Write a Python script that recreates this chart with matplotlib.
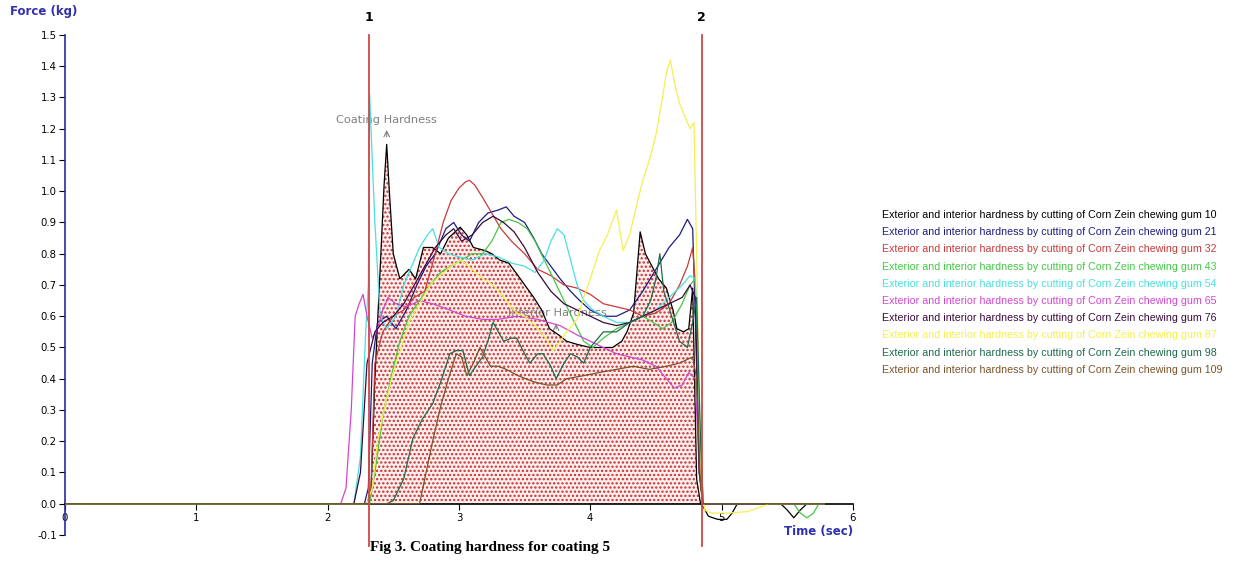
import numpy as np
import matplotlib
matplotlib.use('Agg')
import matplotlib.pyplot as plt

# force curves (time in sec, force in kg)
t_gum10 = [0, 2.30, 2.33, 2.36, 2.40, 2.43, 2.45, 2.47, 2.50, 2.55, 2.62, 2.67, 2.73, 2.80, 2.86, 2.92, 3.01, 3.06,
           3.11, 3.20, 3.25, 3.31, 3.38, 3.45, 3.57, 3.63, 3.69, 3.76, 3.82, 3.90, 4.00, 4.10, 4.17, 4.24, 4.28,
           4.33, 4.38, 4.42, 4.47, 4.52, 4.58, 4.63, 4.66, 4.71, 4.75, 4.78, 4.81, 4.84, 4.86, 4.90, 4.97, 5.04,
           5.08, 5.12, 5.45, 5.50, 5.55, 5.60, 5.65, 5.78]
f_gum10 = [0, 0.0, 0.03, 0.40, 0.75, 1.02, 1.15, 1.00, 0.80, 0.72, 0.75, 0.72, 0.82, 0.82, 0.80, 0.85, 0.885, 0.86,
           0.82, 0.81, 0.80, 0.78, 0.77, 0.73, 0.66, 0.62, 0.56, 0.54, 0.52, 0.51, 0.50, 0.50, 0.50, 0.52, 0.55,
           0.61, 0.87, 0.80, 0.76, 0.72, 0.69, 0.62, 0.56, 0.55, 0.56, 0.69, 0.08, 0.0, -0.01, -0.04, -0.05, -0.05,
           -0.03, 0.0, 0.0, -0.02, -0.045, -0.02, 0.0, 0.0]

t_gum21 = [0, 2.28, 2.31, 2.34, 2.38, 2.45, 2.52, 2.60, 2.68, 2.75, 2.82, 2.90, 2.96, 3.02, 3.08, 3.15, 3.22, 3.30,
           3.36, 3.42, 3.50, 3.57, 3.63, 3.70, 3.77, 3.85, 3.92, 4.00, 4.10, 4.20, 4.30, 4.40, 4.50, 4.60, 4.68,
           4.74, 4.78, 4.80, 4.83, 4.86, 5.78]
f_gum21 = [0, 0.0, 0.05, 0.45, 0.58, 0.60, 0.56, 0.62, 0.70, 0.76, 0.80, 0.88, 0.90, 0.86, 0.84, 0.90, 0.93, 0.94,
           0.95, 0.92, 0.90, 0.85, 0.80, 0.76, 0.72, 0.68, 0.65, 0.62, 0.60, 0.60, 0.62, 0.68, 0.75, 0.82, 0.86,
           0.91, 0.88, 0.60, 0.10, 0.0, 0.0]

t_gum32 = [0, 2.30, 2.33, 2.36, 2.42, 2.50, 2.58, 2.66, 2.74, 2.82, 2.88, 2.94, 3.00, 3.05, 3.08, 3.12, 3.18, 3.25,
           3.32, 3.40, 3.50, 3.60, 3.70, 3.80, 3.90, 4.00, 4.10, 4.20, 4.30, 4.40, 4.50, 4.60, 4.68, 4.74, 4.78,
           4.80, 4.83, 4.86, 5.78]
f_gum32 = [0, 0.0, 0.05, 0.45, 0.55, 0.60, 0.62, 0.66, 0.68, 0.80, 0.90, 0.97, 1.01, 1.03, 1.035, 1.02, 0.98, 0.93,
           0.88, 0.84, 0.80, 0.75, 0.73, 0.70, 0.69, 0.67, 0.64, 0.63, 0.62, 0.60, 0.61, 0.64, 0.70, 0.76, 0.82,
           0.70, 0.15, 0.0, 0.0]

t_gum43 = [0, 2.32, 2.36, 2.42, 2.48, 2.55, 2.62, 2.70, 2.78, 2.86, 2.94, 3.02, 3.10, 3.18, 3.25, 3.32, 3.38, 3.45,
           3.52, 3.58, 3.65, 3.72, 3.80, 3.88, 3.95, 4.02, 4.10, 4.20, 4.30, 4.40, 4.48, 4.55, 4.62, 4.70, 4.76,
           4.80, 4.83, 4.86, 5.55, 5.60, 5.65, 5.70, 5.74, 5.78]
f_gum43 = [0, 0.0, 0.10, 0.28, 0.40, 0.52, 0.60, 0.65, 0.70, 0.74, 0.76, 0.78, 0.80, 0.80, 0.84, 0.90, 0.91, 0.90,
           0.88, 0.84, 0.78, 0.72, 0.65, 0.58, 0.52, 0.50, 0.53, 0.56, 0.58, 0.60, 0.58, 0.56, 0.58, 0.64, 0.70,
           0.72, 0.30, 0.0, 0.0, -0.03, -0.045, -0.03, 0.0, 0.0]

t_gum54 = [0, 2.20, 2.25, 2.29, 2.31, 2.32, 2.34, 2.36, 2.40, 2.45, 2.52, 2.58, 2.64, 2.70, 2.76, 2.80, 2.85, 2.92,
           3.00, 3.10, 3.20, 3.30, 3.40, 3.50, 3.58, 3.65, 3.70, 3.75, 3.80, 3.85, 3.90, 3.95, 4.02, 4.10, 4.20,
           4.30, 4.40, 4.50, 4.60, 4.70, 4.76, 4.80, 4.83, 4.86, 5.78]
f_gum54 = [0, 0.0, 0.15, 0.55, 0.70, 1.31, 1.10, 0.90, 0.60, 0.56, 0.60, 0.70, 0.76, 0.82, 0.86, 0.88, 0.82, 0.80,
           0.79, 0.78, 0.80, 0.79, 0.77, 0.76, 0.74, 0.78, 0.84, 0.88, 0.86, 0.78, 0.70, 0.65, 0.62, 0.60, 0.58,
           0.58, 0.60, 0.62, 0.66, 0.70, 0.73, 0.72, 0.20, 0.0, 0.0]

t_gum65 = [0, 2.10, 2.14, 2.18, 2.21, 2.24, 2.27, 2.30, 2.34, 2.38, 2.42, 2.46, 2.52, 2.60, 2.70, 2.80, 2.93, 3.05,
           3.18, 3.30, 3.44, 3.60, 3.77, 3.90, 4.00, 4.10, 4.20, 4.30, 4.40, 4.50, 4.58, 4.64, 4.70, 4.75, 4.80,
           4.83, 4.86, 5.78]
f_gum65 = [0, 0.0, 0.05, 0.30, 0.60, 0.64, 0.67, 0.60, 0.53, 0.56, 0.62, 0.66, 0.64, 0.63, 0.65, 0.64, 0.62, 0.60,
           0.59, 0.59, 0.60, 0.59, 0.57, 0.54, 0.52, 0.50, 0.48, 0.47, 0.46, 0.44, 0.40, 0.37, 0.38, 0.42, 0.40,
           0.10, 0.0, 0.0]

t_gum76 = [0, 2.20, 2.25, 2.30, 2.36, 2.42, 2.50, 2.58, 2.66, 2.74, 2.82, 2.90, 2.96, 3.02, 3.10, 3.18, 3.26, 3.34,
           3.42, 3.50, 3.60, 3.70, 3.80, 3.90, 4.00, 4.10, 4.20, 4.30, 4.40, 4.50, 4.60, 4.70, 4.76, 4.80, 4.83,
           4.86, 5.78]
f_gum76 = [0, 0.0, 0.10, 0.45, 0.55, 0.58, 0.60, 0.64, 0.70, 0.76, 0.82, 0.86, 0.88, 0.84, 0.86, 0.90, 0.92, 0.90,
           0.87, 0.82, 0.74, 0.68, 0.64, 0.62, 0.60, 0.58, 0.57, 0.58, 0.60, 0.62, 0.64, 0.66, 0.70, 0.66, 0.10,
           0.0, 0.0]

t_gum87 = [0, 2.30, 2.34, 2.38, 2.44, 2.50, 2.56, 2.62, 2.70, 2.78, 2.86, 2.94, 3.02, 3.10, 3.18, 3.26, 3.34, 3.44,
           3.50, 3.58, 3.66, 3.72, 3.82, 3.90, 3.95, 4.00, 4.07, 4.13, 4.20, 4.25, 4.30, 4.35, 4.40, 4.45, 4.50,
           4.55, 4.58, 4.61, 4.64, 4.68, 4.72, 4.76, 4.79, 4.81, 4.84, 4.87, 4.92, 5.05, 5.20, 5.30, 5.36, 5.78]
f_gum87 = [0, 0.0, 0.05, 0.20, 0.32, 0.42, 0.50, 0.58, 0.64, 0.70, 0.73, 0.76, 0.78, 0.75, 0.72, 0.70, 0.66, 0.61,
           0.60, 0.57, 0.53, 0.49, 0.55, 0.59, 0.66, 0.72, 0.81, 0.86, 0.94, 0.81, 0.86, 0.95, 1.035, 1.10, 1.18,
           1.30, 1.38, 1.42, 1.35, 1.28, 1.24, 1.20, 1.22, 0.80, 0.10, -0.02, -0.03, -0.03, -0.025, -0.01, 0.0, 0.0]

t_gum98 = [0, 2.45, 2.50, 2.58, 2.65, 2.72, 2.80, 2.87, 2.93, 2.98, 3.03, 3.08, 3.13, 3.18, 3.22, 3.26, 3.30, 3.34,
           3.40, 3.44, 3.50, 3.54, 3.60, 3.64, 3.70, 3.74, 3.80, 3.85, 3.90, 3.95, 4.00, 4.10, 4.20, 4.30, 4.40,
           4.46, 4.50, 4.53, 4.56, 4.62, 4.68, 4.74, 4.78, 4.81, 4.84, 4.86, 5.78]
f_gum98 = [0, 0.0, 0.01, 0.08, 0.21, 0.27, 0.32, 0.40, 0.48, 0.49, 0.49, 0.41, 0.44, 0.47, 0.52, 0.58, 0.55, 0.52,
           0.53, 0.53, 0.48, 0.45, 0.48, 0.48, 0.44, 0.40, 0.45, 0.48, 0.47, 0.45, 0.50, 0.55, 0.55, 0.58, 0.60,
           0.65, 0.72, 0.80, 0.68, 0.60, 0.52, 0.50, 0.58, 0.66, 0.20, 0.0, 0.0]

t_gum109 = [0, 2.65, 2.70, 2.75, 2.80, 2.86, 2.92, 2.98, 3.02, 3.06, 3.11, 3.16, 3.20, 3.24, 3.30, 3.36, 3.45, 3.57,
            3.67, 3.75, 3.82, 3.95, 4.07, 4.20, 4.33, 4.45, 4.58, 4.68, 4.78, 4.81, 4.84, 4.86, 5.78]
f_gum109 = [0, 0.0, 0.0, 0.10, 0.20, 0.31, 0.40, 0.48, 0.47, 0.41, 0.45, 0.50, 0.47, 0.44, 0.44, 0.43, 0.41, 0.39,
            0.38, 0.38, 0.40, 0.41, 0.42, 0.43, 0.44, 0.43, 0.44, 0.45, 0.47, 0.40, 0.05, 0.0, 0.0]

gum_ids = [10, 21, 32, 43, 54, 65, 76, 87, 98, 109]
series_t = [t_gum10, t_gum21, t_gum32, t_gum43, t_gum54, t_gum65, t_gum76, t_gum87, t_gum98, t_gum109]
series_f = [f_gum10, f_gum21, f_gum32, f_gum43, f_gum54, f_gum65, f_gum76, f_gum87, f_gum98, f_gum109]
colors = ['#000000', '#1c1c80', '#c83a3a', '#44c844', '#48e0e0', '#d048d0', '#3a0a3a', '#f4f050', '#1e6a4a', '#7a5428']

marker1 = 2.315
marker2 = 4.85

fig = plt.figure(figsize=(12.35, 5.65), dpi=100)
ax = fig.add_axes([0.0526, 0.0531, 0.638, 0.885])
ax.set_xlim(0, 6)
ax.set_ylim(-0.1, 1.5)

# hatched area under the first curve between the two markers
t10 = np.array(t_gum10)
f10 = np.array(f_gum10)
plt.rcParams['hatch.linewidth'] = 1.1
ax.fill_between(t10, f10, 0, where=(t10 >= marker1) & (t10 <= marker2), interpolate=True,
                facecolor='#fdeeee', edgecolor='#c83030', hatch='....', linewidth=0, zorder=1)

for t, f, c in zip(series_t, series_f, colors):
    ax.plot(t, f, color=c, lw=0.9, zorder=3)

# marker lines
for xm, lab in [(marker1, '1'), (marker2, '2')]:
    ax.plot([xm, xm], [-0.135, 1.5], color='#d04848', lw=1.3, clip_on=False, zorder=4)
    ax.text(xm, 1.557, lab, ha='center', va='center', fontsize=9, fontweight='bold')

ax.text(2.45, 1.228, 'Coating Hardness', ha='center', va='center', fontsize=8.2, color='#808080', zorder=2)
ax.annotate('', xy=(2.45, 1.205), xytext=(2.45, 1.165),
            arrowprops=dict(arrowstyle='->', color='#808080', lw=0.8))
ax.text(3.75, 0.61, 'Interior Hardness', ha='center', va='center', fontsize=8.2, color='#808080', zorder=2)
ax.annotate('', xy=(3.74, 0.585), xytext=(3.74, 0.55),
            arrowprops=dict(arrowstyle='->', color='#808080', lw=0.8), zorder=2)

# axes style
for s in ['top', 'right']:
    ax.spines[s].set_visible(False)
ax.spines['bottom'].set_position(('data', 0))
ax.spines['left'].set_color('#2a2aa0')
ax.spines['left'].set_linewidth(1.2)
ax.spines['bottom'].set_linewidth(1.2)
ax.set_xticks(range(7))
ax.set_yticks(np.round(np.arange(-0.1, 1.51, 0.1), 1))
ax.set_yticklabels(['%.1f' % v for v in np.arange(-0.1, 1.51, 0.1)])
ax.tick_params(axis='both', labelsize=7.3, length=4, width=0.8, pad=2)
ax.tick_params(axis='x', pad=3)

fig.text(10 / 1235, 1 - 12 / 565, 'Force (kg)', ha='left', va='center', fontsize=8.5,
         fontweight='bold', color='#3030b0')
fig.text(853 / 1235, 1 - 532 / 565, 'Time (sec)', ha='right', va='center', fontsize=8.5,
         fontweight='bold', color='#3030b0')

# legend as coloured text lines
for i, (g, c) in enumerate(zip(gum_ids, colors)):
    fig.text(882 / 1235, 1 - (215 + i * 17.2) / 565,
             'Exterior and interior hardness by cutting of Corn Zein chewing gum %d' % g,
             ha='left', va='center', fontsize=7.7, color=c,
             family=['Liberation Sans Narrow', 'Liberation Sans', 'DejaVu Sans'])

fig.text(490 / 1235, 1 - 548 / 565, 'Fig 3. Coating hardness for coating 5', ha='center', va='center',
         fontsize=11, fontweight='bold', family=['Liberation Serif', 'DejaVu Serif'])

fig.savefig('out.png', dpi=100)
